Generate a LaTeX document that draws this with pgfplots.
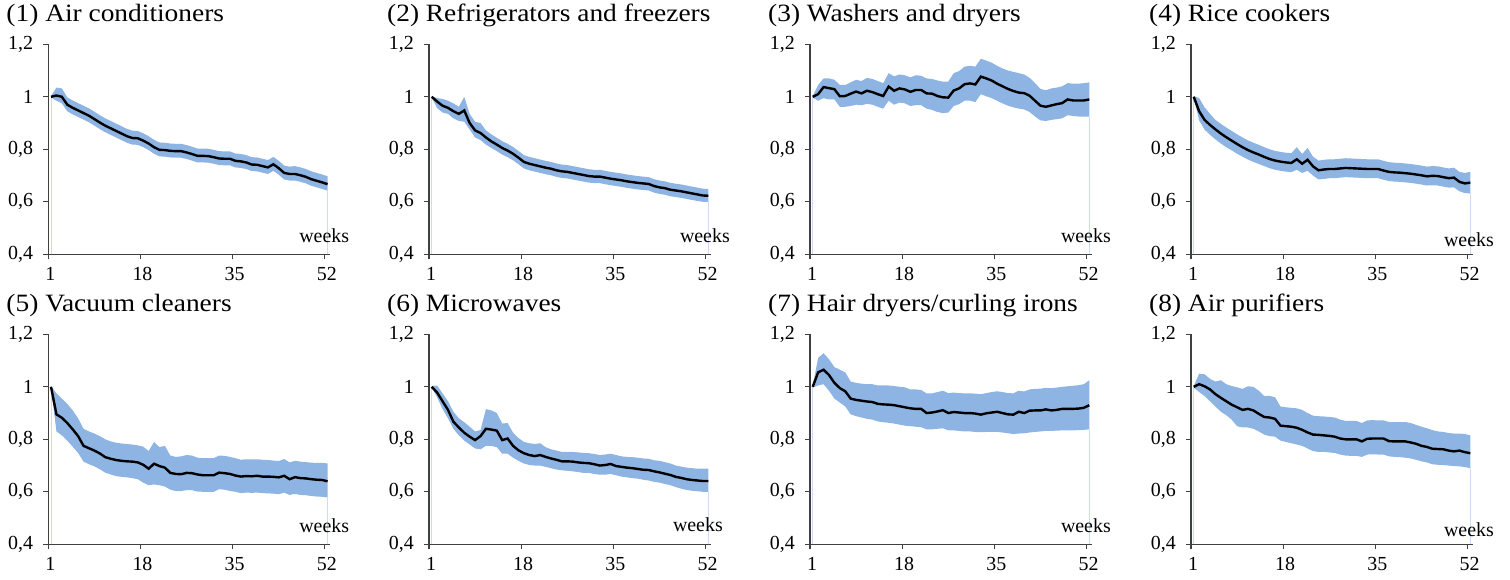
\documentclass[border=0pt]{standalone}
\usepackage{fontspec}
\setmainfont{Liberation Serif}
\newfontfamily\titlefont[FakeStretch=1.1]{Liberation Serif}
\usepackage{pgfplots}
\usepackage{pgfplotstable}
\usepgfplotslibrary{fillbetween}
\pgfplotsset{compat=1.18}
\definecolor{band}{RGB}{141,180,227}
\definecolor{axisgray}{RGB}{64,64,64}

\pgfplotstableread{
w m lo hi
1 1.000 0.997 1.003
2 1.005 0.985 1.035
3 1.000 0.975 1.032
4 0.970 0.945 0.998
5 0.958 0.933 0.986
6 0.948 0.923 0.976
7 0.938 0.913 0.966
8 0.928 0.903 0.956
9 0.915 0.890 0.943
10 0.902 0.877 0.930
11 0.890 0.865 0.918
12 0.880 0.855 0.908
13 0.870 0.845 0.898
14 0.860 0.835 0.888
15 0.850 0.825 0.878
16 0.843 0.818 0.871
17 0.842 0.817 0.870
18 0.833 0.808 0.861
19 0.822 0.797 0.850
20 0.808 0.783 0.836
21 0.798 0.773 0.826
22 0.797 0.772 0.825
23 0.794 0.769 0.822
24 0.793 0.768 0.821
25 0.793 0.768 0.821
26 0.788 0.763 0.816
27 0.782 0.757 0.810
28 0.775 0.750 0.803
29 0.775 0.750 0.803
30 0.774 0.749 0.802
31 0.770 0.745 0.798
32 0.765 0.740 0.793
33 0.764 0.739 0.792
34 0.764 0.739 0.792
35 0.756 0.731 0.784
36 0.754 0.729 0.782
37 0.750 0.725 0.778
38 0.742 0.717 0.770
39 0.741 0.716 0.769
40 0.736 0.711 0.764
41 0.731 0.706 0.759
42 0.743 0.718 0.771
43 0.728 0.703 0.756
44 0.710 0.685 0.738
45 0.706 0.681 0.734
46 0.706 0.681 0.736
47 0.701 0.676 0.731
48 0.695 0.670 0.725
49 0.686 0.661 0.716
50 0.680 0.655 0.710
51 0.674 0.649 0.704
52 0.667 0.642 0.697
}\tA

\pgfplotstableread{
w m lo hi
1 1.000 0.997 1.003
2 0.982 0.957 0.995
3 0.966 0.940 0.992
4 0.958 0.935 0.985
5 0.945 0.918 0.975
6 0.935 0.908 0.962
7 0.948 0.905 1.000
8 0.900 0.875 0.935
9 0.872 0.845 0.905
10 0.862 0.835 0.900
11 0.845 0.818 0.872
12 0.830 0.805 0.857
13 0.818 0.793 0.844
14 0.805 0.780 0.831
15 0.795 0.770 0.821
16 0.783 0.758 0.809
17 0.768 0.743 0.794
18 0.752 0.727 0.778
19 0.745 0.720 0.771
20 0.740 0.715 0.766
21 0.735 0.710 0.761
22 0.730 0.705 0.756
23 0.726 0.701 0.752
24 0.720 0.695 0.746
25 0.716 0.691 0.742
26 0.714 0.689 0.740
27 0.710 0.685 0.736
28 0.706 0.681 0.732
29 0.702 0.677 0.728
30 0.698 0.673 0.724
31 0.696 0.671 0.722
32 0.696 0.671 0.722
33 0.692 0.667 0.718
34 0.688 0.663 0.714
35 0.685 0.660 0.711
36 0.682 0.657 0.708
37 0.678 0.653 0.704
38 0.675 0.650 0.701
39 0.672 0.647 0.698
40 0.670 0.645 0.696
41 0.668 0.643 0.694
42 0.660 0.635 0.686
43 0.655 0.630 0.681
44 0.652 0.627 0.678
45 0.646 0.621 0.672
46 0.643 0.618 0.669
47 0.640 0.615 0.666
48 0.636 0.611 0.662
49 0.632 0.607 0.658
50 0.628 0.603 0.654
51 0.624 0.600 0.650
52 0.623 0.599 0.649
}\tB

\pgfplotstableread{
w m lo hi
1 1.000 0.997 1.003
2 1.010 0.985 1.045
3 1.037 0.995 1.070
4 1.033 0.990 1.070
5 1.029 0.990 1.065
6 1.002 0.962 1.045
7 1.003 0.962 1.045
8 1.012 0.965 1.055
9 1.020 0.970 1.065
10 1.013 0.968 1.060
11 1.023 0.973 1.072
12 1.018 0.970 1.068
13 1.010 0.962 1.060
14 1.003 0.955 1.052
15 1.039 0.985 1.090
16 1.023 0.970 1.078
17 1.032 0.978 1.085
18 1.028 0.975 1.082
19 1.019 0.965 1.074
20 1.026 0.968 1.082
21 1.026 0.968 1.080
22 1.013 0.955 1.070
23 1.012 0.950 1.068
24 1.003 0.942 1.062
25 0.998 0.938 1.058
26 0.997 0.940 1.058
27 1.024 0.965 1.090
28 1.032 0.972 1.098
29 1.048 0.985 1.115
30 1.051 0.985 1.118
31 1.047 0.980 1.115
32 1.077 1.010 1.145
33 1.070 1.002 1.138
34 1.062 0.995 1.130
35 1.050 0.985 1.118
36 1.040 0.975 1.108
37 1.030 0.966 1.100
38 1.022 0.960 1.095
39 1.016 0.955 1.090
40 1.014 0.952 1.085
41 1.004 0.942 1.072
42 0.985 0.925 1.052
43 0.966 0.910 1.030
44 0.962 0.908 1.025
45 0.967 0.912 1.032
46 0.972 0.915 1.035
47 0.976 0.918 1.040
48 0.990 0.930 1.052
49 0.986 0.927 1.050
50 0.986 0.925 1.050
51 0.986 0.924 1.052
52 0.990 0.924 1.055
}\tC

\pgfplotstableread{
w m lo hi
1 1.000 0.997 1.003
2 0.945 0.910 0.995
3 0.912 0.875 0.960
4 0.893 0.855 0.935
5 0.876 0.838 0.912
6 0.860 0.822 0.897
7 0.846 0.808 0.883
8 0.833 0.796 0.870
9 0.820 0.783 0.857
10 0.808 0.772 0.845
11 0.797 0.761 0.834
12 0.788 0.752 0.825
13 0.780 0.744 0.817
14 0.771 0.736 0.808
15 0.763 0.728 0.800
16 0.757 0.722 0.794
17 0.753 0.718 0.790
18 0.750 0.715 0.787
19 0.748 0.713 0.785
20 0.762 0.722 0.808
21 0.745 0.710 0.782
22 0.760 0.718 0.805
23 0.735 0.700 0.772
24 0.720 0.685 0.757
25 0.723 0.687 0.760
26 0.725 0.690 0.762
27 0.725 0.690 0.762
28 0.727 0.692 0.764
29 0.729 0.694 0.766
30 0.728 0.693 0.765
31 0.727 0.692 0.764
32 0.726 0.691 0.763
33 0.725 0.690 0.762
34 0.725 0.690 0.762
35 0.725 0.690 0.762
36 0.719 0.684 0.756
37 0.714 0.679 0.751
38 0.712 0.677 0.749
39 0.711 0.676 0.748
40 0.709 0.674 0.746
41 0.707 0.672 0.744
42 0.704 0.669 0.741
43 0.701 0.666 0.738
44 0.697 0.662 0.734
45 0.699 0.663 0.736
46 0.698 0.662 0.735
47 0.694 0.658 0.731
48 0.690 0.654 0.727
49 0.692 0.655 0.730
50 0.676 0.640 0.714
51 0.670 0.633 0.710
52 0.673 0.632 0.714
}\tD

\pgfplotstableread{
w m lo hi
1 1.000 0.997 1.003
2 0.895 0.830 0.975
3 0.882 0.815 0.955
4 0.862 0.795 0.935
5 0.838 0.772 0.910
6 0.812 0.748 0.880
7 0.775 0.715 0.840
8 0.766 0.705 0.830
9 0.757 0.697 0.822
10 0.746 0.686 0.812
11 0.732 0.673 0.800
12 0.726 0.666 0.792
13 0.721 0.660 0.787
14 0.718 0.657 0.784
15 0.716 0.655 0.782
16 0.715 0.652 0.780
17 0.712 0.648 0.777
18 0.703 0.635 0.772
19 0.688 0.625 0.755
20 0.707 0.628 0.790
21 0.698 0.625 0.770
22 0.692 0.620 0.775
23 0.672 0.608 0.738
24 0.668 0.603 0.733
25 0.667 0.603 0.735
26 0.672 0.606 0.740
27 0.671 0.606 0.738
28 0.666 0.601 0.730
29 0.663 0.600 0.728
30 0.663 0.600 0.728
31 0.663 0.600 0.728
32 0.673 0.610 0.738
33 0.671 0.608 0.737
34 0.668 0.603 0.733
35 0.662 0.600 0.728
36 0.658 0.595 0.722
37 0.660 0.597 0.724
38 0.659 0.596 0.723
39 0.661 0.597 0.724
40 0.658 0.595 0.722
41 0.658 0.594 0.721
42 0.657 0.593 0.719
43 0.655 0.591 0.717
44 0.661 0.597 0.725
45 0.648 0.588 0.712
46 0.656 0.592 0.718
47 0.652 0.588 0.715
48 0.651 0.587 0.713
49 0.648 0.584 0.711
50 0.646 0.582 0.710
51 0.645 0.581 0.710
52 0.640 0.578 0.708
}\tE

\pgfplotstableread{
w m lo hi
1 1.000 0.997 1.003
2 0.978 0.960 1.005
3 0.945 0.915 0.975
4 0.912 0.880 0.945
5 0.867 0.840 0.905
6 0.845 0.815 0.880
7 0.825 0.795 0.865
8 0.810 0.780 0.848
9 0.797 0.765 0.830
10 0.812 0.762 0.835
11 0.840 0.775 0.915
12 0.837 0.775 0.910
13 0.833 0.770 0.900
14 0.797 0.745 0.860
15 0.803 0.745 0.862
16 0.775 0.730 0.825
17 0.758 0.718 0.805
18 0.747 0.708 0.790
19 0.740 0.702 0.785
20 0.736 0.700 0.782
21 0.740 0.700 0.785
22 0.733 0.695 0.770
23 0.727 0.690 0.762
24 0.722 0.685 0.757
25 0.716 0.682 0.752
26 0.716 0.680 0.752
27 0.715 0.678 0.752
28 0.712 0.675 0.750
29 0.710 0.672 0.748
30 0.709 0.672 0.747
31 0.705 0.668 0.744
32 0.700 0.665 0.740
33 0.702 0.665 0.742
34 0.706 0.668 0.745
35 0.698 0.663 0.740
36 0.695 0.658 0.735
37 0.692 0.655 0.733
38 0.690 0.652 0.732
39 0.687 0.650 0.730
40 0.684 0.646 0.727
41 0.683 0.643 0.726
42 0.678 0.638 0.720
43 0.674 0.635 0.718
44 0.669 0.630 0.713
45 0.664 0.625 0.708
46 0.657 0.618 0.700
47 0.653 0.612 0.696
48 0.648 0.607 0.692
49 0.645 0.604 0.690
50 0.643 0.602 0.688
51 0.641 0.600 0.688
52 0.641 0.600 0.688
}\tF

\pgfplotstableread{
w m lo hi
1 1.000 0.997 1.003
2 1.055 1.005 1.110
3 1.065 1.010 1.128
4 1.045 0.985 1.105
5 1.015 0.955 1.075
6 0.995 0.940 1.065
7 0.983 0.925 1.055
8 0.955 0.895 1.020
9 0.950 0.888 1.015
10 0.947 0.883 1.012
11 0.944 0.878 1.010
12 0.942 0.875 1.010
13 0.935 0.868 1.005
14 0.933 0.865 1.005
15 0.932 0.863 1.005
16 0.930 0.860 1.003
17 0.926 0.856 1.000
18 0.922 0.852 0.998
19 0.918 0.850 0.990
20 0.916 0.848 0.990
21 0.916 0.846 0.988
22 0.900 0.838 0.975
23 0.902 0.838 0.975
24 0.906 0.840 0.980
25 0.911 0.842 0.985
26 0.900 0.834 0.976
27 0.904 0.834 0.978
28 0.902 0.832 0.976
29 0.900 0.830 0.975
30 0.900 0.830 0.975
31 0.898 0.828 0.974
32 0.894 0.827 0.972
33 0.899 0.828 0.976
34 0.902 0.828 0.980
35 0.905 0.828 0.983
36 0.900 0.826 0.980
37 0.895 0.823 0.976
38 0.894 0.820 0.975
39 0.905 0.822 0.985
40 0.900 0.823 0.982
41 0.909 0.826 0.990
42 0.910 0.828 0.992
43 0.910 0.830 0.993
44 0.914 0.832 0.996
45 0.910 0.832 0.995
46 0.912 0.833 0.997
47 0.916 0.834 1.000
48 0.916 0.834 1.002
49 0.916 0.834 1.004
50 0.917 0.835 1.006
51 0.920 0.836 1.010
52 0.930 0.838 1.025
}\tG

\pgfplotstableread{
w m lo hi
1 1.000 0.997 1.003
2 1.010 0.980 1.050
3 1.002 0.965 1.048
4 0.990 0.945 1.030
5 0.972 0.925 1.020
6 0.958 0.905 1.025
7 0.945 0.892 1.010
8 0.932 0.875 1.003
9 0.922 0.850 0.998
10 0.912 0.845 0.992
11 0.916 0.845 1.002
12 0.910 0.840 1.000
13 0.897 0.830 0.985
14 0.885 0.818 0.965
15 0.883 0.812 0.965
16 0.878 0.810 0.960
17 0.852 0.795 0.925
18 0.850 0.790 0.922
19 0.848 0.785 0.920
20 0.844 0.780 0.918
21 0.836 0.775 0.912
22 0.826 0.765 0.900
23 0.818 0.755 0.890
24 0.817 0.752 0.888
25 0.815 0.752 0.887
26 0.813 0.750 0.885
27 0.810 0.748 0.883
28 0.803 0.742 0.875
29 0.800 0.738 0.870
30 0.800 0.737 0.870
31 0.800 0.737 0.870
32 0.792 0.733 0.862
33 0.802 0.742 0.872
34 0.803 0.743 0.873
35 0.803 0.742 0.872
36 0.803 0.742 0.872
37 0.793 0.735 0.866
38 0.792 0.733 0.865
39 0.792 0.732 0.865
40 0.792 0.730 0.866
41 0.788 0.727 0.862
42 0.783 0.722 0.855
43 0.775 0.716 0.848
44 0.771 0.712 0.842
45 0.764 0.705 0.835
46 0.763 0.703 0.830
47 0.762 0.702 0.828
48 0.757 0.700 0.824
49 0.754 0.698 0.822
50 0.757 0.697 0.822
51 0.751 0.694 0.820
52 0.747 0.690 0.815
}\tH

\pgfplotsset{
  panel/.style={
    scale only axis, width=282bp, height=210bp,
    xmin=0.5, xmax=52.5, ymin=0.4, ymax=1.2,
    axis lines=left,
    axis line style={-, axisgray, line width=1.1bp},
    xtick={0.5,17.5,34.5,51.5}, xticklabels={1,18,35,52},
    ytick={0.4,0.6,0.8,1,1.2}, yticklabels={{0,4},{0,6},{0,8},1,{1,2}},
    tick align=outside, major tick length=5bp,
    tick style={axisgray, line width=1.1bp},
    tick label style={font=\fontsize{20}{22}\selectfont, inner sep=0pt},
    xticklabel style={yshift=-8bp, xshift=2bp},
    yticklabel style={xshift=-10bp},
    title style={at={(0,1)}, anchor=base west, xshift=-42bp, yshift=16.6bp,
      inner sep=0pt, font=\titlefont\fontsize{25}{29}\selectfont},
    xlabel={weeks},
    clip=false,
  },
  wk/.style 2 args={xlabel style={at={(1,0)}, anchor=base east, xshift=#1, yshift=#2,
      inner sep=0pt, font=\fontsize{20}{22}\selectfont}},
}

\newcommand\drawpanel[2]{%
  \addplot[name path=hi#2, draw=none, forget plot] table[x=w,y=hi]{#1};
  \addplot[name path=lo#2, draw=none, forget plot] table[x=w,y=lo]{#1};
  \addplot[fill=band, draw=none, forget plot] fill between[of=hi#2 and lo#2];
  \addplot[black, line width=2.4bp, forget plot] table[x=w,y=m]{#1};
}

\begin{document}
\begin{tikzpicture}

\begin{axis}[panel, wk={19bp}{12bp}, at={(48.3bp,325.7bp)}, anchor=south west, title={(1) Air conditioners}]
\addplot[band!45, line width=0.6bp, forget plot] coordinates {(1,0.4) (1,1.0)};
\addplot[band!45, line width=0.6bp, forget plot] coordinates {(52,0.4) (52,0.642)};
\drawpanel{\tA}{a}
\end{axis}

\begin{axis}[panel, wk={19bp}{12bp}, at={(429bp,325.7bp)}, anchor=south west, title={(2) Refrigerators and freezers}]
\addplot[band!45, line width=0.6bp, forget plot] coordinates {(1,0.4) (1,1.0)};
\addplot[band!45, line width=0.6bp, forget plot] coordinates {(52,0.4) (52,0.599)};
\drawpanel{\tB}{b}
\end{axis}

\begin{axis}[panel, wk={19bp}{12bp}, at={(810bp,325.7bp)}, anchor=south west, title={(3) Washers and dryers}]
\addplot[band!45, line width=0.6bp, forget plot] coordinates {(1,0.4) (1,1.0)};
\addplot[band!45, line width=0.6bp, forget plot] coordinates {(52,0.4) (52,0.924)};
\drawpanel{\tC}{c}
\end{axis}

\begin{axis}[panel, wk={21bp}{7.6bp}, at={(1191bp,325.7bp)}, anchor=south west, title={(4) Rice cookers}]
\addplot[band!45, line width=0.6bp, forget plot] coordinates {(1,0.4) (1,1.0)};
\addplot[band!45, line width=0.6bp, forget plot] coordinates {(52,0.4) (52,0.632)};
\drawpanel{\tD}{d}
\end{axis}

\begin{axis}[panel, wk={19bp}{12bp}, at={(48.3bp,35.7bp)}, anchor=south west, title={(5) Vacuum cleaners}]
\addplot[band!45, line width=0.6bp, forget plot] coordinates {(1,0.4) (1,1.0)};
\addplot[band!45, line width=0.6bp, forget plot] coordinates {(52,0.4) (52,0.578)};
\drawpanel{\tE}{e}
\end{axis}

\begin{axis}[panel, wk={12bp}{12.6bp}, at={(429bp,35.7bp)}, anchor=south west, title={(6) Microwaves}]
\addplot[band!45, line width=0.6bp, forget plot] coordinates {(1,0.4) (1,1.0)};
\addplot[band!45, line width=0.6bp, forget plot] coordinates {(52,0.4) (52,0.600)};
\drawpanel{\tF}{f}
\end{axis}

\begin{axis}[panel, wk={19bp}{12bp}, at={(810bp,35.7bp)}, anchor=south west, title={(7) Hair dryers/curling irons}]
\addplot[band!45, line width=0.6bp, forget plot] coordinates {(1,0.4) (1,1.0)};
\addplot[band!45, line width=0.6bp, forget plot] coordinates {(52,0.4) (52,0.838)};
\drawpanel{\tG}{g}
\end{axis}

\begin{axis}[panel, wk={21bp}{7.6bp}, at={(1191bp,35.7bp)}, anchor=south west, title={(8) Air purifiers}]
\addplot[band!45, line width=0.6bp, forget plot] coordinates {(1,0.4) (1,1.0)};
\addplot[band!45, line width=0.6bp, forget plot] coordinates {(52,0.4) (52,0.690)};
\drawpanel{\tH}{h}
\end{axis}

\path (0,0) rectangle (1510bp,580bp);
\end{tikzpicture}
\end{document}
